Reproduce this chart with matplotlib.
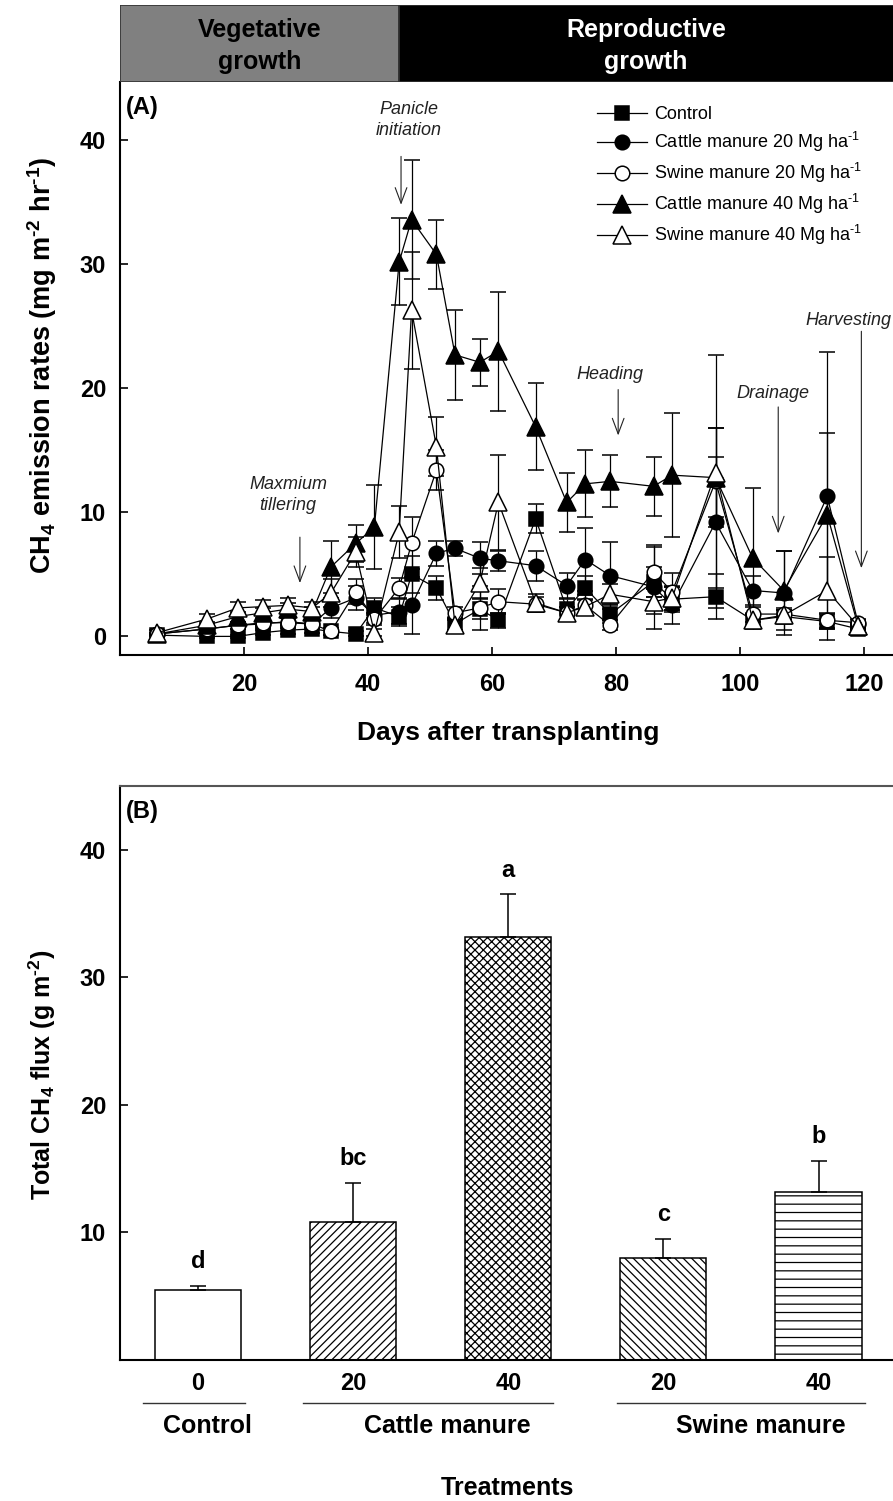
import matplotlib

matplotlib.use("Agg")
import matplotlib.pyplot as plt
import numpy as np
from matplotlib import font_manager

# ---------------- data ----------------
days = [6, 14, 19, 23, 27, 31, 34, 38, 41, 45, 47, 51, 54, 58, 61, 67, 72, 75, 79, 86, 89, 96, 102, 107, 114, 119]

control = [0.1, 0.0, 0.0, 0.3, 0.5, 0.6, 0.4, 0.2, 2.3, 1.6, 5.0, 3.9, 1.0, 2.2, 1.3, 9.5, 2.2, 3.9, 1.8, 4.4, 3.0, 3.2, 1.3, 1.6, 1.2, 0.6]
cattle20 = [0.2, 0.6, 0.9, 1.0, 1.2, 1.0, 2.3, 3.1, 1.7, 2.0, 2.5, 6.7, 7.1, 6.3, 6.1, 5.7, 4.1, 6.2, 4.9, 4.0, 2.5, 9.2, 3.7, 3.5, 11.3, 1.0]
swine20 = [0.2, 0.6, 0.9, 1.1, 1.1, 1.0, 0.4, 3.6, 1.4, 3.9, 7.5, 13.4, 1.9, 2.3, 2.8, 2.6, 1.9, 2.5, 0.9, 5.2, 3.6, 12.5, 1.8, 1.8, 1.3, 1.1]
cattle40 = [0.2, 0.9, 1.6, 1.9, 2.2, 2.0, 5.6, 7.5, 8.8, 30.2, 33.6, 30.8, 22.7, 22.1, 23.0, 16.9, 10.8, 12.3, 12.5, 12.1, 13.0, 12.8, 6.3, 3.7, 9.8, 0.8]
swine40 = [0.3, 1.4, 2.3, 2.4, 2.5, 2.3, 3.5, 6.8, 0.3, 8.4, 26.3, 15.3, 0.9, 4.3, 10.8, 2.7, 1.9, 2.4, 3.4, 2.8, 3.1, 13.2, 1.3, 1.7, 3.7, 0.8]

err_control = [0.1, 0.1, 0.1, 0.2, 0.3, 0.3, 0.3, 0.2, 0.8, 0.8, 1.5, 1.0, 0.5, 0.8, 0.6, 1.2, 0.8, 1.0, 0.7, 1.2, 1.0, 1.8, 0.5, 0.5, 0.6, 0.3]
err_cattle20 = [0.1, 0.2, 0.3, 0.3, 0.3, 0.3, 0.8, 1.0, 0.6, 1.0, 2.3, 1.0, 0.6, 1.3, 0.8, 1.2, 1.0, 2.5, 2.7, 3.4, 1.5, 5.3, 1.2, 3.4, 11.6, 0.3]
err_swine20 = [0.1, 0.2, 0.3, 0.3, 0.4, 0.3, 0.3, 1.0, 0.5, 0.8, 2.1, 1.6, 0.5, 1.8, 1.0, 0.6, 0.5, 0.8, 0.4, 2.0, 1.5, 10.2, 0.6, 0.5, 0.6, 0.3]
err_cattle40 = [0.1, 0.3, 0.4, 0.4, 0.5, 0.4, 2.1, 1.5, 3.4, 3.5, 4.8, 2.8, 3.6, 1.9, 4.8, 3.5, 2.4, 2.7, 2.1, 2.4, 5.0, 4.0, 5.7, 3.2, 6.6, 0.3]
err_swine40 = [0.2, 0.4, 0.5, 0.5, 0.6, 0.5, 1.1, 1.2, 0.3, 2.1, 4.7, 2.4, 0.4, 1.2, 3.8, 0.7, 0.5, 0.6, 0.8, 1.0, 1.0, 3.6, 0.5, 0.4, 2.7, 0.2]

HY = "\u2010"  # short hyphen for superscripts
series_labels = [
    "Control",
    "Cattle manure 20 Mg ha$^{" + HY + "1}$",
    "Swine manure 20 Mg ha$^{" + HY + "1}$",
    "Cattle manure 40 Mg ha$^{" + HY + "1}$",
    "Swine manure 40 Mg ha$^{" + HY + "1}$",
]

stage_names = ["Vegetative\ngrowth", "Reproductive\ngrowth"]
stage_edges = [0, 45, 125]

event_names = ["Maxmium\ntillering", "Panicle\ninitiation", "Heading", "Drainage", "Harvesting"]
event_days = [29, 45.3, 80.3, 106.1, 119.5]

bar_cats = ["0", "20", "40", "20", "40"]
bar_means = [5.5, 10.8, 33.2, 8.0, 13.2]
bar_err = [0.3, 3.1, 3.3, 1.5, 2.4]
bar_letters = ["d", "bc", "a", "c", "b"]
group_names = ["Control", "Cattle manure", "Swine manure"]

# ---------------- fonts ----------------
names = {f.name for f in font_manager.fontManager.ttflist}
NARROW = "Liberation Sans Narrow" if "Liberation Sans Narrow" in names else "Liberation Sans"
REG = "Liberation Sans"
plt.rcParams["font.family"] = [NARROW, "DejaVu Sans"]
plt.rcParams["mathtext.fontset"] = "custom"
plt.rcParams["mathtext.rm"] = NARROW
plt.rcParams["mathtext.bf"] = NARROW + ":bold"
plt.rcParams["mathtext.it"] = NARROW + ":italic"
plt.rcParams["hatch.linewidth"] = 0.9

W, H = 893, 1501


def box(x0, y0, x1, y1):
    return [x0 / W, 1 - y1 / H, (x1 - x0) / W, (y1 - y0) / H]


fig = plt.figure(figsize=(W / 100, H / 100), dpi=100)
ax_a = fig.add_axes(box(120, 82, 893, 655))
ax_s = fig.add_axes(box(120, 5, 893, 82))
ax_b = fig.add_axes(box(120, 786, 893, 1360))

# ---------------- panel A ----------------
styles = [
    ("s", "black", 10.5),
    ("o", "black", 10.5),
    ("o", "white", 10.5),
    ("^", "black", 13),
    ("^", "white", 13),
]
values = [control, cattle20, swine20, cattle40, swine40]
errors = [err_control, err_cattle20, err_swine20, err_cattle40, err_swine40]

handles = []
for label, vals, errs, (marker, face, ms) in zip(series_labels, values, errors, styles):
    cont = ax_a.errorbar(
        days, vals, yerr=errs, fmt="-", marker=marker, mfc=face, mec="black",
        ms=ms, mew=1.1, color="black", lw=0.9, elinewidth=0.9,
        capsize=5.5, capthick=0.9, label=label,
    )
    handles.append(cont[0])

ax_a.set_xlim(0, 124.6)
ax_a.set_ylim(-1.5, 44.7)
ax_a.set_xticks([20, 40, 60, 80, 100, 120])
ax_a.set_yticks([0, 10, 20, 30, 40])
ax_a.tick_params(direction="in", length=6, width=1.2, labelsize=17)
ax_a.tick_params(axis="x", pad=13)
ax_a.tick_params(axis="y", pad=10)
for lbl in ax_a.get_xticklabels() + ax_a.get_yticklabels():
    lbl.set_fontweight("bold")
for side in ("top", "right"):
    ax_a.spines[side].set_visible(False)
for side in ("left", "bottom"):
    ax_a.spines[side].set_linewidth(1.5)

leg = ax_a.legend(
    handles, series_labels, loc="upper left", bbox_to_anchor=(0.617, 0.958),
    frameon=False, borderpad=0, borderaxespad=0, handlelength=2.75,
    handletextpad=0.4, labelspacing=0.38, numpoints=1,
    prop={"family": REG, "size": 13},
)

ax_a.text(0.008, 0.975, "(A)", transform=ax_a.transAxes, fontsize=17,
          fontweight="bold", family=REG, va="top", ha="left")

# event annotations: (text x, text y, arrow top, arrow tip)
event_pos = [(27.1, 11.4, 8.0, 4.3), (46.5, 41.6, 38.7, 34.8), (79.0, 21.1, 19.9, 16.2),
             (105.3, 19.6, 18.5, 8.3), (117.4, 25.5, 24.6, 5.5)]
for name, day, (tx, ty, top, tip) in zip(event_names, event_days, event_pos):
    ax_a.text(tx, ty, name, ha="center", va="center", fontsize=13, style="italic",
              color="#222222", linespacing=1.3)
    ax_a.annotate("", xy=(day, tip), xytext=(day, top),
                  arrowprops=dict(arrowstyle="->,head_length=0.8,head_width=0.3",
                                  color="#222222", lw=0.8, mutation_scale=14,
                                  shrinkA=0, shrinkB=0))

fig.text(42 / W, 1 - 365 / H,
         r"CH$_\mathbf{4}$ emission rates (mg m$^\mathbf{" + HY + r"2}$ hr$^\mathbf{" + HY + r"1}$)",
         rotation=90, ha="center", va="center", fontsize=19.5, fontweight="bold")
fig.text(508 / W, 1 - 733 / H, "Days after transplanting", ha="center", va="center",
         fontsize=19, fontweight="bold")

# ---------------- stage banner ----------------
stage_colors = ["#808080", "black"]
stage_text = ["black", "white"]
for i, name in enumerate(stage_names):
    left, right = stage_edges[i], stage_edges[i + 1]
    ax_s.barh(0, right - left, left=left, height=1, color=stage_colors[i],
              edgecolor="#333333", lw=1.2)
    ax_s.text((left + min(right, 124.6)) / 2, -0.03, name, ha="center", va="center",
              fontsize=18, fontweight="bold", color=stage_text[i], linespacing=1.45)
ax_s.set_xlim(0, 124.6)
ax_s.set_ylim(-0.5, 0.5)
ax_s.axis("off")

# ---------------- panel B ----------------
bar_x = np.arange(len(bar_cats))
hatches = ["", "////", "xxxx", "\\\\\\\\", "--"]
for x, m, h in zip(bar_x, bar_means, hatches):
    ax_b.bar(x, m, width=0.555, color="white", edgecolor="black", hatch=h, lw=1.1)
ax_b.errorbar(bar_x, bar_means, yerr=[np.zeros(len(bar_err)), bar_err], fmt="none",
              ecolor="black", elinewidth=1.1, capsize=6, capthick=1.1)
for x, m, e, t in zip(bar_x, bar_means, bar_err, bar_letters):
    ax_b.text(x, m + e + 1.4, t, ha="center", va="baseline", fontsize=17,
              fontweight="bold", family=REG)

ax_b.set_xlim(-0.503, 4.48)
ax_b.set_ylim(0, 45)
ax_b.set_xticks(bar_x)
ax_b.set_xticklabels(bar_cats)
ax_b.set_yticks([10, 20, 30, 40])
ax_b.tick_params(axis="y", direction="in", length=6, width=1.2, labelsize=17, pad=10)
ax_b.tick_params(axis="x", length=0, labelsize=17, pad=9)
for lbl in ax_b.get_xticklabels() + ax_b.get_yticklabels():
    lbl.set_fontweight("bold")
ax_b.spines["right"].set_visible(False)
for side in ("left", "bottom", "top"):
    ax_b.spines[side].set_linewidth(1.5)
ax_b.spines["top"].set_color("#555555")

ax_b.text(0.008, 0.975, "(B)", transform=ax_b.transAxes, fontsize=17,
          fontweight="bold", family=REG, va="top", ha="left")

trans = ax_b.get_xaxis_transform()
group_spans = [(-0.355, 0.303), (0.677, 2.29), (2.70, 4.30)]
group_text_x = [0.06, 1.61, 3.63]
for name, (g0, g1), gx in zip(group_names, group_spans, group_text_x):
    ax_b.plot([g0, g1], [-0.075, -0.075], transform=trans, color="#333333", lw=1.0,
              clip_on=False)
    ax_b.text(gx, -0.115, name, transform=trans, ha="center", va="center",
              fontsize=18, fontweight="bold")

fig.text(42 / W, 1 - 1075 / H, r"Total CH$_\mathbf{4}$ flux (g m$^\mathbf{" + HY + r"2}$)",
         rotation=90, ha="center", va="center", fontsize=18, fontweight="bold")
fig.text(507 / W, 1 - 1488 / H, "Treatments", ha="center", va="center",
         fontsize=18, fontweight="bold")

fig.savefig("out.png", dpi=100)
